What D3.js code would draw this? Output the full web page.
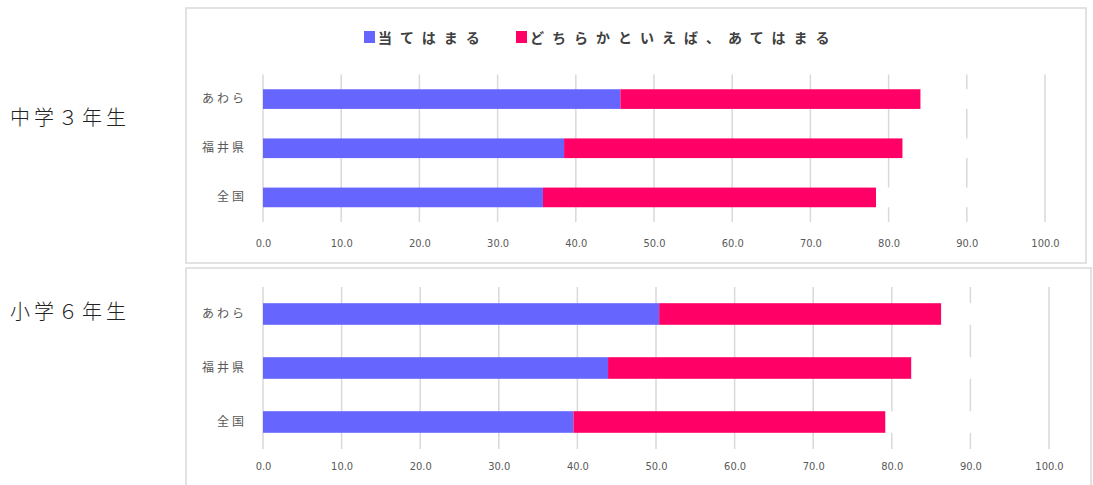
<!DOCTYPE html>
<html><head><meta charset="utf-8">
<script src="https://cdn.jsdelivr.net/npm/d3@7"></script>
<style>
body{margin:0;background:#fff;}
svg{display:block;}
</style></head>
<body>
<svg id="c" width="1093" height="485"></svg>
<script>
// ---- data ----
const categories = ["あわら", "福井県", "全国"];
const seriesNames = ["当てはまる", "どちらかといえば、あてはまる", "その他"];
const seriesColors = ["#6666FF", "#FF0066", "#FFFFFF"];
const panelTitles = ["中学３年生", "小学６年生"];
// 中学3年生
const jhsAteha = [45.7, 38.5, 35.8];
const jhsDochira = [38.4, 43.3, 42.6];
const jhsOther = [15.5, 17.8, 21.2];
// 小学6年生
const esAteha = [50.4, 43.9, 39.5];
const esDochira = [35.9, 38.6, 39.7];
const esOther = [13.3, 17.1, 20.4];
const xTicks = [0, 10, 20, 30, 40, 50, 60, 70, 80, 90, 100];

const svg = d3.select("#c");
const jp = "'Noto Sans CJK JP', 'Noto Sans', sans-serif";

function makeRows(a, b, c) {
  return categories.map((cat, i) => ({cat, s0: a[i], s1: b[i], s2: c[i]}));
}

const panels = [
  {title: panelTitles[0], rows: makeRows(jhsAteha, jhsDochira, jhsOther),
   box: {x: 186, y: 8, w: 900, h: 255}, plot: {x0: 263, x1: 1045, y0: 74.5, y1: 222},
   titleY: 125, tickY: 248},
  {title: panelTitles[1], rows: makeRows(esAteha, esDochira, esOther),
   box: {x: 186, y: 268, w: 905, h: 230}, plot: {x0: 263, x1: 1049, y0: 287, y1: 449},
   titleY: 319, tickY: 471}
];

const keys = ["s0", "s1", "s2"];

panels.forEach(p => {
  // frame
  svg.append("rect").attr("x", p.box.x).attr("y", p.box.y)
    .attr("width", p.box.w).attr("height", p.box.h)
    .attr("fill", "#fff").attr("stroke", "#d9d9d9").attr("stroke-width", 1.5);

  // side title
  svg.append("text").attr("x", 10).attr("y", p.titleY)
    .attr("font-family", jp).attr("font-size", 20).attr("font-weight", 300)
    .attr("letter-spacing", 4).attr("fill", "#222").text(p.title);

  const x = d3.scaleLinear().domain([0, 100]).range([p.plot.x0, p.plot.x1]);
  const y = d3.scaleBand().domain(categories).range([p.plot.y0, p.plot.y1])
    .paddingInner(0.6).paddingOuter(0.3);

  // gridlines
  const g = svg.append("g");
  g.selectAll("line.grid").data(xTicks).join("line")
    .attr("x1", d => x(d)).attr("x2", d => x(d))
    .attr("y1", p.plot.y0).attr("y2", p.plot.y1)
    .attr("stroke", "#d9d9d9").attr("stroke-width", 1.5);

  // bars
  const stack = d3.stack().keys(keys)(p.rows);
  stack.forEach((layer, li) => {
    g.append("g").attr("fill", seriesColors[li])
      .selectAll("rect").data(layer).join("rect")
      .attr("x", d => x(d[0]))
      .attr("width", d => x(d[1]) - x(d[0]))
      .attr("y", d => y(d.data.cat))
      .attr("height", y.bandwidth());
  });

  // category labels
  const yAxis = d3.axisLeft(y).tickSize(0).tickPadding(16);
  const ya = svg.append("g").attr("transform", `translate(${p.plot.x0},0)`).call(yAxis);
  ya.select(".domain").remove();
  ya.selectAll("text").attr("font-family", jp).attr("font-size", 12)
    .attr("letter-spacing", 3).attr("fill", "#595959");

  // x tick labels
  const xAxis = d3.axisBottom(x).tickValues(xTicks).tickSize(0).tickFormat(d3.format(".1f"));
  const xa = svg.append("g").attr("transform", `translate(0,${p.tickY - 12})`).call(xAxis);
  xa.select(".domain").remove();
  xa.selectAll("text").attr("font-family", "'Liberation Sans Narrow', 'DejaVu Sans Condensed', sans-serif")
    .attr("font-size", 11).attr("fill", "#595959").attr("dy", "0.71em");
});

// legend (top panel)
const legend = [
  {name: seriesNames[0], color: seriesColors[0], x: 364},
  {name: seriesNames[1], color: seriesColors[1], x: 516}
];
const lg = svg.append("g");
legend.forEach(l => {
  lg.append("rect").attr("x", l.x).attr("y", 31).attr("width", 11).attr("height", 12).attr("fill", l.color);
  lg.append("text").attr("x", l.x + 14).attr("y", 43)
    .attr("font-family", jp).attr("font-size", 14).attr("font-weight", 700)
    .attr("letter-spacing", 8).attr("fill", "#404040").text(l.name);
});
</script>
</body></html>
